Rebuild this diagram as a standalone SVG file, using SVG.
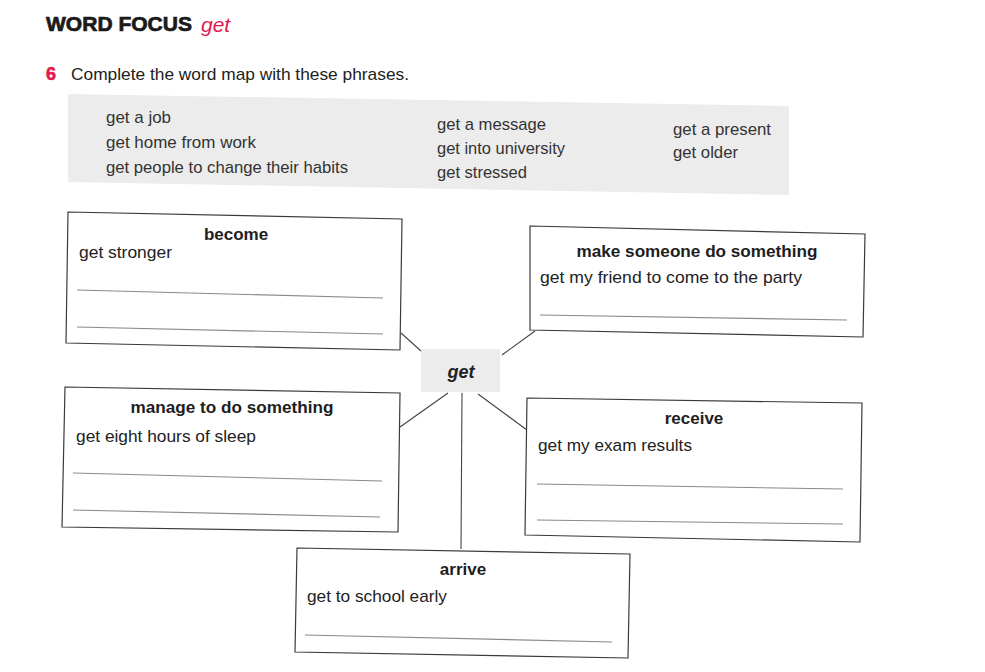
<svg xmlns="http://www.w3.org/2000/svg" width="985" height="672" viewBox="0 0 985 672">
<style>
text{font-family:"Liberation Sans",Arial,sans-serif;fill:#222}
.h{font-size:21px;font-weight:bold;fill:#1a1a1a;stroke:#1a1a1a;stroke-width:0.7}
.red{fill:#e3194d}
.ins{font-size:17px}
.ph{font-size:17px;fill:#333}
.t{font-size:17px;font-weight:bold;text-anchor:middle;fill:#1e1e1e}
.e{font-size:17px}
.box{fill:#fff;stroke:#3a3a3a;stroke-width:1.2}
.ln{stroke:#8a8a8a;stroke-width:1.1;fill:none}
.con{stroke:#444;stroke-width:1.1;fill:none}
</style>
<rect width="985" height="672" fill="#fff"/>
<g id="header">
<text class="h" x="46" y="31" textLength="146" lengthAdjust="spacingAndGlyphs">WORD FOCUS</text>
<text class="red" x="201" y="32" font-size="21" font-style="italic">get</text>
<text class="red" x="46" y="80" font-size="18" font-weight="bold" stroke="#e3194d" stroke-width="0.6">6</text>
<text class="ins" x="71" y="80" textLength="338" lengthAdjust="spacingAndGlyphs">Complete the word map with these phrases.</text>
</g>
<g id="phrases">
<polygon points="68,94 789,106 789,195 68,182" fill="#ececec"/>
<text class="ph" x="106" y="123" textLength="65" lengthAdjust="spacingAndGlyphs">get a job</text>
<text class="ph" x="106" y="148" textLength="150" lengthAdjust="spacingAndGlyphs">get home from work</text>
<text class="ph" x="106" y="173" textLength="242" lengthAdjust="spacingAndGlyphs">get people to change their habits</text>
<text class="ph" x="437" y="130" textLength="109" lengthAdjust="spacingAndGlyphs">get a message</text>
<text class="ph" x="437" y="154" textLength="128" lengthAdjust="spacingAndGlyphs">get into university</text>
<text class="ph" x="437" y="178" textLength="90" lengthAdjust="spacingAndGlyphs">get stressed</text>
<text class="ph" x="673" y="135" textLength="98" lengthAdjust="spacingAndGlyphs">get a present</text>
<text class="ph" x="673" y="158" textLength="65" lengthAdjust="spacingAndGlyphs">get older</text>
</g>
<g id="connectors">
<line class="con" x1="401" y1="333" x2="421" y2="351"/>
<line class="con" x1="502" y1="355" x2="535" y2="331"/>
<line class="con" x1="448" y1="393" x2="400" y2="427"/>
<line class="con" x1="478" y1="394" x2="527" y2="430"/>
<line class="con" x1="462" y1="393" x2="461" y2="549"/>
</g>
<g id="center">
<rect x="421" y="349" width="79" height="43" fill="#ececec"/>
<text x="461" y="378" font-size="18" font-weight="bold" font-style="italic" text-anchor="middle" fill="#1a1a1a">get</text>
</g>
<g id="become">
<polygon class="box" points="68,212 402,219 400,350 66,343"/>
<line class="ln" x1="77" y1="290" x2="383" y2="298"/>
<line class="ln" x1="77" y1="327" x2="383" y2="334"/>
<text class="t" x="236" y="240">become</text>
<text class="e" x="79" y="258" textLength="93" lengthAdjust="spacingAndGlyphs">get stronger</text>
</g>
<g id="make">
<polygon class="box" points="530,226 865,234 863,337 530,330"/>
<line class="ln" x1="540" y1="315" x2="847" y2="320"/>
<text class="t" x="697" y="257" textLength="241" lengthAdjust="spacingAndGlyphs">make someone do something</text>
<text class="e" x="540" y="283" textLength="262" lengthAdjust="spacingAndGlyphs">get my friend to come to the party</text>
</g>
<g id="manage">
<polygon class="box" points="65,387 400,393 398,532 62,527"/>
<line class="ln" x1="73" y1="473" x2="382" y2="481"/>
<line class="ln" x1="73" y1="510" x2="380" y2="517"/>
<text class="t" x="232" y="413" textLength="203" lengthAdjust="spacingAndGlyphs">manage to do something</text>
<text class="e" x="76" y="442" textLength="180" lengthAdjust="spacingAndGlyphs">get eight hours of sleep</text>
</g>
<g id="receive">
<polygon class="box" points="527,398 862,403 860,542 525,535"/>
<line class="ln" x1="537" y1="484" x2="843" y2="489"/>
<line class="ln" x1="537" y1="520" x2="843" y2="524"/>
<text class="t" x="694" y="424">receive</text>
<text class="e" x="538" y="451" textLength="154" lengthAdjust="spacingAndGlyphs">get my exam results</text>
</g>
<g id="arrive">
<polygon class="box" points="297,548 630,554 628,658 295,652"/>
<line class="ln" x1="305" y1="635" x2="612" y2="642"/>
<text class="t" x="463" y="575">arrive</text>
<text class="e" x="307" y="602" textLength="140" lengthAdjust="spacingAndGlyphs">get to school early</text>
</g>
</svg>
